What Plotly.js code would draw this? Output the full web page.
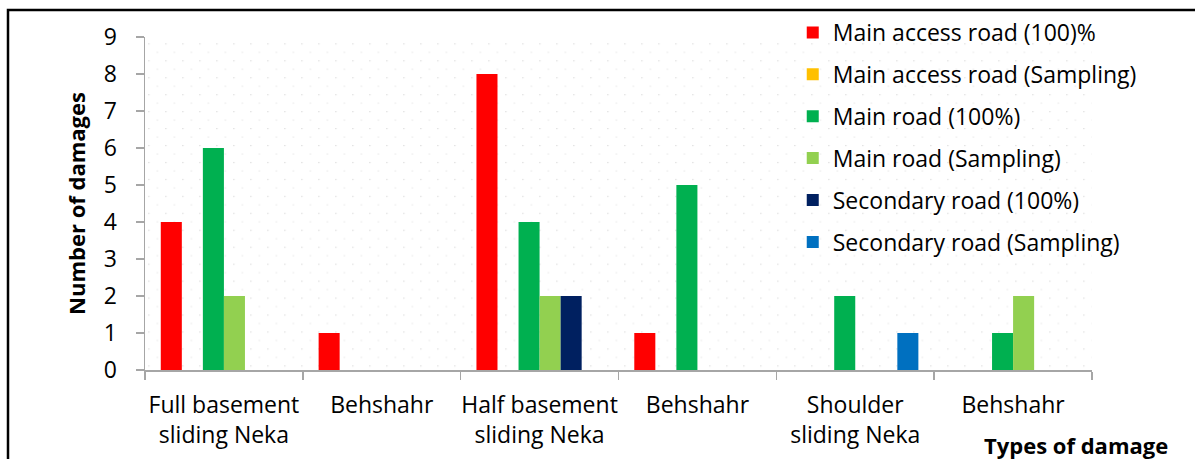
<!DOCTYPE html>
<html>
<head>
<meta charset="utf-8">
<script src="https://cdn.plot.ly/plotly-3.0.1.min.js"></script>
<style>
html,body{margin:0;padding:0;background:#fff;}
#chart{width:1195px;height:459px;}
</style>
</head>
<body>
<div id="chart"></div>
<script>
// ---- data ----
const categories = ["Full basement<br>sliding Neka", "Behshahr", "Half basement<br>sliding Neka", "Behshahr", "Shoulder<br>sliding Neka", "Behshahr"];
const seriesNames = ["Main access road (100)%", "Main access road (Sampling)", "Main road (100%)", "Main road (Sampling)", "Secondary road (100%)", "Secondary road (Sampling)"];
const mainAccess100 = [4, 1, 8, 1, 0, 0];
const mainAccessSampling = [0, 0, 0, 0, 0, 0];
const mainRoad100 = [6, 0, 4, 5, 2, 1];
const mainRoadSampling = [2, 0, 2, 0, 0, 2];
const secondary100 = [0, 0, 2, 0, 0, 0];
const secondarySampling = [0, 0, 0, 0, 1, 0];
const yTicks = [0, 1, 2, 3, 4, 5, 6, 7, 8, 9];

const seriesValues = [mainAccess100, mainAccessSampling, mainRoad100, mainRoadSampling, secondary100, secondarySampling];
const colors = ["#FF0000", "#FFC000", "#00B050", "#92D050", "#002060", "#0070C0"];
const xIdx = categories.map((c, i) => i);

const FONT = "Open Sans, sans-serif";
const FS = 23;
const TFS = 22;

const traces = seriesNames.map((name, k) => ({
  type: "bar",
  name: name,
  x: xIdx,
  y: seriesValues[k],
  marker: {color: colors[k], line: {width: 0}},
  legendgroup: "g" + k,
  hoverinfo: "x+y+name"
}));

// dotted background pattern
const W = 947, H = 334;
const svg = `<svg xmlns="http://www.w3.org/2000/svg" width="${W}" height="${H}">
<defs><pattern id="p" x="3.3" y="6.3" width="17" height="17" patternUnits="userSpaceOnUse">
<rect x="0" y="0" width="1.2" height="1.2" fill="#d8d8d8"/>
<rect x="8.5" y="8.5" width="1.2" height="1.2" fill="#e4e4e4"/>
</pattern></defs>
<rect x="0" y="0" width="${W}" height="${H}" fill="url(#p)"/></svg>`;
const svgUri = "data:image/svg+xml;base64," + btoa(svg);

const layout = {
  width: 1195,
  height: 459,
  margin: {l: 145, r: 103, t: 36, b: 89},
  paper_bgcolor: "#ffffff",
  plot_bgcolor: "rgba(0,0,0,0)",
  font: {family: FONT, size: FS, color: "#000"},
  barmode: "group",
  bargap: 0.2,
  bargroupgap: 0,
  showlegend: true,
  legend: {
    x: 0.684, y: 1.075, xanchor: "left", yanchor: "top",
    bgcolor: "rgba(0,0,0,0)",
    font: {family: FONT, size: FS, color: "#000"},
    traceorder: "grouped",
    tracegroupgap: 9,
    maxheight: 1
  },
  xaxis: {
    type: "linear",
    range: [-0.5, 5.5],
    tickmode: "array",
    tickvals: xIdx,
    ticktext: categories,
    ticks: "",
    showgrid: false,
    zeroline: false,
    showline: true,
    linecolor: "#a6a6a6",
    linewidth: 1.5,
    ticklabelstandoff: 14,
    tickfont: {family: FONT, size: FS, color: "#000"},
    minor: {tick0: -0.5, dtick: 1, ticks: "outside", ticklen: 8, tickwidth: 1.5, tickcolor: "#a6a6a6", showgrid: false},
    fixedrange: true
  },
  yaxis: {
    range: [0, 9],
    tickmode: "array",
    tickvals: yTicks,
    ticks: "outside",
    ticklen: 8,
    tickwidth: 1.5,
    tickcolor: "#a6a6a6",
    showgrid: false,
    zeroline: false,
    showline: true,
    linecolor: "#a6a6a6",
    linewidth: 1.5,
    ticklabelstandoff: 14,
    tickfont: {family: FONT, size: FS, color: "#000"},
    title: {text: "<b>Number of damages</b>", font: {family: FONT, size: TFS, color: "#000"}, standoff: 12},
    fixedrange: true
  },
  images: [{
    source: svgUri, xref: "paper", yref: "paper", x: 0, y: 1, sizex: 1, sizey: 1,
    sizing: "stretch", xanchor: "left", yanchor: "top", layer: "below"
  }],
  annotations: [{
    text: "<b>Types of damage</b>", xref: "paper", yref: "paper",
    x: 1.0824, y: -0.2246, xanchor: "right", yanchor: "middle",
    showarrow: false, font: {family: FONT, size: TFS, color: "#000"}
  }],
  shapes: [{
    type: "rect", xref: "paper", yref: "paper",
    x0: (8 - 145) / 947, x1: 1.3, y0: -0.5, y1: 1 + (36 - 9) / 334,
    line: {color: "#000", width: 2.5}, fillcolor: "rgba(0,0,0,0)", layer: "above"
  }]
};

Plotly.newPlot("chart", traces, layout, {displayModeBar: false, staticPlot: true});
</script>
</body>
</html>
